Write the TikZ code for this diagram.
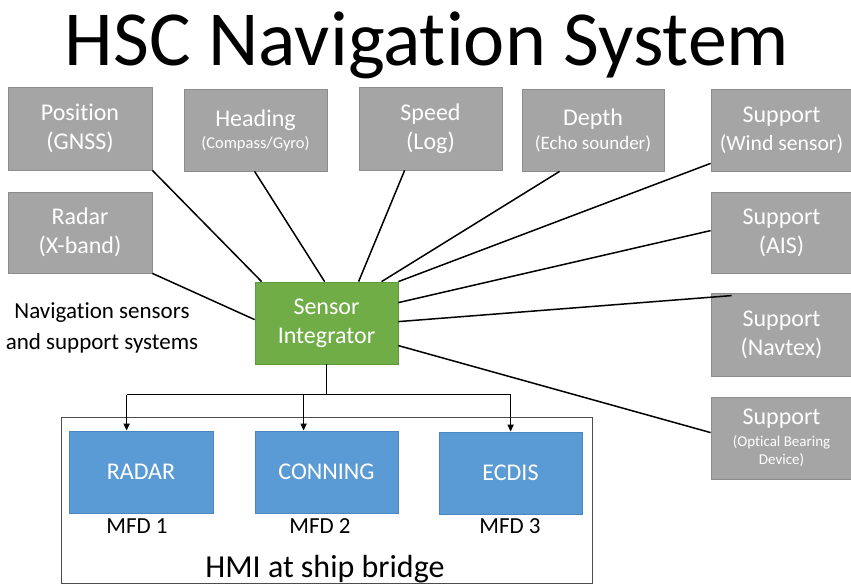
\documentclass[tikz,border=0pt]{standalone}
\usepackage{fontspec}
\setmainfont{Carlito}[Ligatures=NoCommon]
\usetikzlibrary{calc,arrows.meta}
\definecolor{boxgray}{HTML}{A5A5A5}
\definecolor{boxgrayline}{HTML}{8C8C8C}
\definecolor{sigreen}{HTML}{70AD47}
\definecolor{sigreenline}{HTML}{5E9A3A}
\definecolor{mfdblue}{HTML}{5B9BD5}
\definecolor{mfdblueline}{HTML}{4A86BF}
\newcommand{\smallsixteen}{\fontsize{16.5}{18}\selectfont}
\newcommand{\smallnineteen}{\fontsize{19}{22}\selectfont}
\newcommand{\smallfifteen}{\fontsize{15}{18}\selectfont}
\newcommand{\smalltwentytwo}{\fontsize{21.7}{26}\selectfont}
\begin{document}
\begin{tikzpicture}[x=1pt,y=-1pt,
  sensorbox/.style={rectangle,draw=boxgrayline,fill=boxgray,line width=0.8pt,inner sep=0pt,
    minimum width=143pt,minimum height=82pt,text=white,align=center,
    font=\fontsize{24}{29}\selectfont},
  integbox/.style={rectangle,draw=sigreenline,fill=sigreen,line width=0.8pt,inner sep=0pt,
    minimum width=143pt,minimum height=82pt,text=white,align=center,
    font=\fontsize{24}{29}\selectfont},
  mfdbox/.style={rectangle,draw=mfdblueline,fill=mfdblue,line width=0.8pt,inner sep=0pt,
    minimum width=143pt,minimum height=82pt,text=white,align=center,
    font=\fontsize{24}{29}\selectfont},
  plain/.style={inner sep=0pt,align=center,font=\fontsize{23}{31}\selectfont},
  link/.style={line width=1.5pt,black},
  feed/.style={line width=1.5pt,black,-{Triangle[length=7pt,width=6pt]}},
]
\useasboundingbox (0,0) rectangle (851,585);
\fill[white] (0,0) rectangle (851,585);

\node[inner sep=0pt,font=\fontsize{78}{80}\selectfont,anchor=base] (title) at (427,66) {HSC Navigation System};

\node[sensorbox,minimum width=144pt,minimum height=83pt] (pos) at (80,128.5) {Position\\(GNSS)};
\node[sensorbox] (head) at (255.5,130) {Heading\\[-7pt]\smallsixteen(Compass/Gyro)};
\node[sensorbox,minimum height=83pt] (speed) at (430.5,128.5) {Speed\\(Log)};
\node[sensorbox,minimum width=142pt] (depth) at (593,130) {Depth\\[-5pt]\smallnineteen(Echo sounder)};
\node[sensorbox,minimum width=141pt] (wind) at (781.5,130) {Support\\[-1pt]\smalltwentytwo(Wind sensor)};
\node[sensorbox,minimum width=144pt,minimum height=81pt] (radar) at (80,232.5) {Radar\\(X-band)};
\node[sensorbox,minimum width=141pt,minimum height=81pt] (ais) at (781.5,232.5) {Support\\(AIS)};
\node[sensorbox,minimum width=141pt,minimum height=83pt] (navtex) at (781.5,334.5) {Support\\(Navtex)};
\node[sensorbox,minimum width=141pt] (optical) at (781.5,438) {Support\\[-7pt]\smallfifteen(Optical Bearing\\[-11pt]\smallfifteen Device)};

\node[plain] (navlabel) at (102,328) {Navigation sensors\\and support systems};

\node[integbox] (si) at (326.5,323) {Sensor\\Integrator};

\node[draw=black!70,line width=0.8pt,minimum width=531pt,minimum height=166pt,inner sep=0pt] (hmi) at (326.5,500) {};
\node[inner sep=0pt,font=\fontsize{32}{36}\selectfont,anchor=base] (hmilabel) at (325,577) {HMI at ship bridge};

\node[mfdbox,minimum width=144pt] (mradar) at (141,472) {RADAR};
\node[mfdbox] (mconning) at (326.5,472) {CONNING};
\node[mfdbox] (mecdis) at (510.5,473) {ECDIS};
\node[plain,anchor=base] (mfd1) at (137,533) {MFD 1};
\node[plain,anchor=base] (mfd2) at (320,533) {MFD 2};
\node[plain,anchor=base] (mfd3) at (510,533) {MFD 3};

% sensor links
\draw[link] (pos.south east) -- ($(si.north west)+(7,0)$);
\draw[link] ($(head.south west)+(71,0)$) -- ($(si.north west)+(70,0)$);
\draw[link] ($(speed.south west)+(46,0)$) -- ($(si.north west)+(104,0)$);
\draw[link] ($(depth.south west)+(38,0)$) -- ($(si.north west)+(127,0)$);
\draw[link] ($(wind.south west)+(0,-8)$) -- ($(si.north east)+(0,0)$);
\draw[link] ($(ais.north west)+(0,39)$) -- ($(si.north east)+(0,21)$);
\draw[link] ($(navtex.north west)+(21,3)$) -- ($(si.north east)+(0,40)$);
\draw[link] ($(optical.north west)+(0,36)$) -- ($(si.north east)+(0,64)$);
\draw[link] ($(radar.south east)+(0,0)$) -- ($(si.north west)+(0,38)$);

% distribution to MFDs
\coordinate (bus) at (326.5,395);
\draw[link] (si.south) -- (bus);
\draw[link] ($(mradar.north west)+(58,-36)$) -- ($(mecdis.north west)+(72,-37)$);
\draw[feed] ($(mradar.north west)+(58,-36)$) -- ($(mradar.north west)+(58,0)$);
\draw[feed] ($(mconning.north west)+(49,-36)$) -- ($(mconning.north west)+(49,0)$);
\draw[feed] ($(mecdis.north west)+(72,-37)$) -- ($(mecdis.north west)+(72,0)$);
\end{tikzpicture}
\end{document}
